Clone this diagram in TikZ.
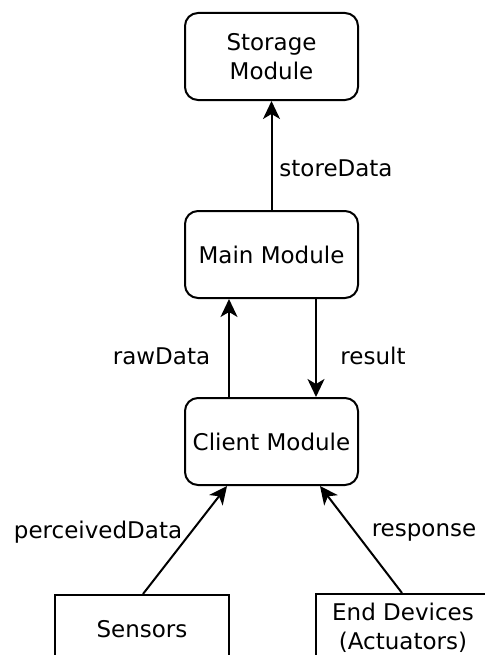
\documentclass[tikz,border=0pt]{standalone}
\usepackage{fontspec}
\setmainfont{DejaVu Sans}
\usetikzlibrary{arrows.meta}
\begin{document}
\begin{tikzpicture}[x=1bp,y=-1bp,
  every node/.style={font=\fontsize{23bp}{29bp}\selectfont},
  module/.style={draw,line width=2bp,rounded corners=13bp,minimum width=173bp,minimum height=87bp,inner sep=0pt,align=center},
  device/.style={draw,line width=2bp,minimum width=174bp,minimum height=68bp,inner sep=0pt,align=center},
  flow/.style={line width=2bp,-{Stealth[length=18bp,width=17bp,inset=5bp]}},
  tag/.style={inner sep=0pt}]
\useasboundingbox (0,0) rectangle (485,655);
% modules
\node[module] (storage) at (271.5,56.5) {Storage\\Module};
\node[module] (main) at (271.5,254.5) {Main Module};
\node[module] (client) at (271.5,441.5) {Client Module};
% field devices
\node[device] (sensors) at (142,629) {Sensors};
\node[device] (actuators) at (403,628) {End Devices\\(Actuators)};
% data flows
\draw[flow] (main.north) -- (storage.south);
\draw[flow] ([xshift=-42.5bp]client.north) -- ([xshift=-42.5bp]main.south);
\draw[flow] ([xshift=44.5bp]main.south) -- ([xshift=44.5bp]client.north);
\draw[flow] ([xshift=1bp]sensors.north) -- ([xshift=-44.5bp]client.south);
\draw[flow] ([xshift=-1bp]actuators.north) -- ([xshift=48.5bp]client.south);
% flow labels
\node[tag] (lstore) at (336,168) {storeData};
\node[tag] (lraw) at (161.5,356) {rawData};
\node[tag] (lres) at (373,356) {result};
\node[tag] (lperc) at (98,532) {perceivedData};
\node[tag] (lresp) at (424,532) {response};
\end{tikzpicture}
\end{document}
